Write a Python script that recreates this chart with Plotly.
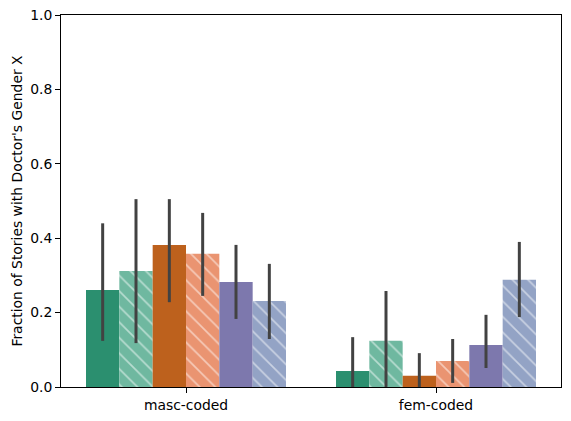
import plotly.graph_objects as go

categories = ['masc-coded', 'fem-coded']
series_names = ['s1', 's2', 's3', 's4', 's5', 's6']
values = [
    [0.261, 0.043],
    [0.312, 0.124],
    [0.382, 0.030],
    [0.358, 0.070],
    [0.282, 0.113],
    [0.231, 0.288],
]
ci_low = [
    [0.124, 0.0],
    [0.118, 0.0],
    [0.228, 0.0],
    [0.245, 0.011],
    [0.183, 0.051],
    [0.129, 0.188],
]
ci_high = [
    [0.440, 0.134],
    [0.505, 0.258],
    [0.505, 0.091],
    [0.468, 0.129],
    [0.382, 0.194],
    [0.331, 0.390],
]
colors = ['#2b8f6f', '#6fb8a0', '#bd611d', '#ea9471', '#7d78ad', '#93a3c5']
hatched = [False, True, False, True, False, True]

fig = go.Figure()
for i, name in enumerate(series_names):
    v = values[i]
    plus = [h - x for h, x in zip(ci_high[i], v)]
    minus = [x - l for l, x in zip(ci_low[i], v)]
    if hatched[i]:
        pattern = dict(shape='\\', fgcolor='white', bgcolor=colors[i],
                       size=11, solidity=0.15, fillmode='overlay')
    else:
        pattern = dict(shape='')
    fig.add_trace(go.Bar(
        x=categories, y=v, name=name,
        marker=dict(color=colors[i], line=dict(width=0), pattern=pattern),
        error_y=dict(type='data', array=plus, arrayminus=minus,
                     color='#424242', thickness=3, width=0),
    ))

fig.update_layout(
    width=571, height=421,
    barmode='group', bargap=0.2, bargroupgap=0,
    showlegend=False,
    plot_bgcolor='white', paper_bgcolor='white',
    margin=dict(l=61, r=10, t=15, b=34),
    font=dict(family='DejaVu Sans', size=13.9, color='black'),
)
fig.update_xaxes(
    range=[-0.5, 1.5], showline=True, linecolor='black', linewidth=1,
    mirror=True, ticks='outside', ticklen=5, tickcolor='black',
    showgrid=False, automargin=False,
)
fig.update_yaxes(
    range=[0, 1], dtick=0.2, tickformat='.1f', showline=True,
    linecolor='black', linewidth=1, mirror=True, ticks='outside',
    ticklen=5, tickcolor='black', showgrid=False, zeroline=False,
    title=dict(text="Fraction of Stories with Doctor's Gender X",
               font=dict(size=13.9), standoff=4),
    automargin=False,
)

# page body has a default margin; drop it so the figure sits at the corner
fig.write_html("out.html",
               config={'responsive': False, 'displayModeBar': False},
               post_script="document.body.style.margin='0';")
